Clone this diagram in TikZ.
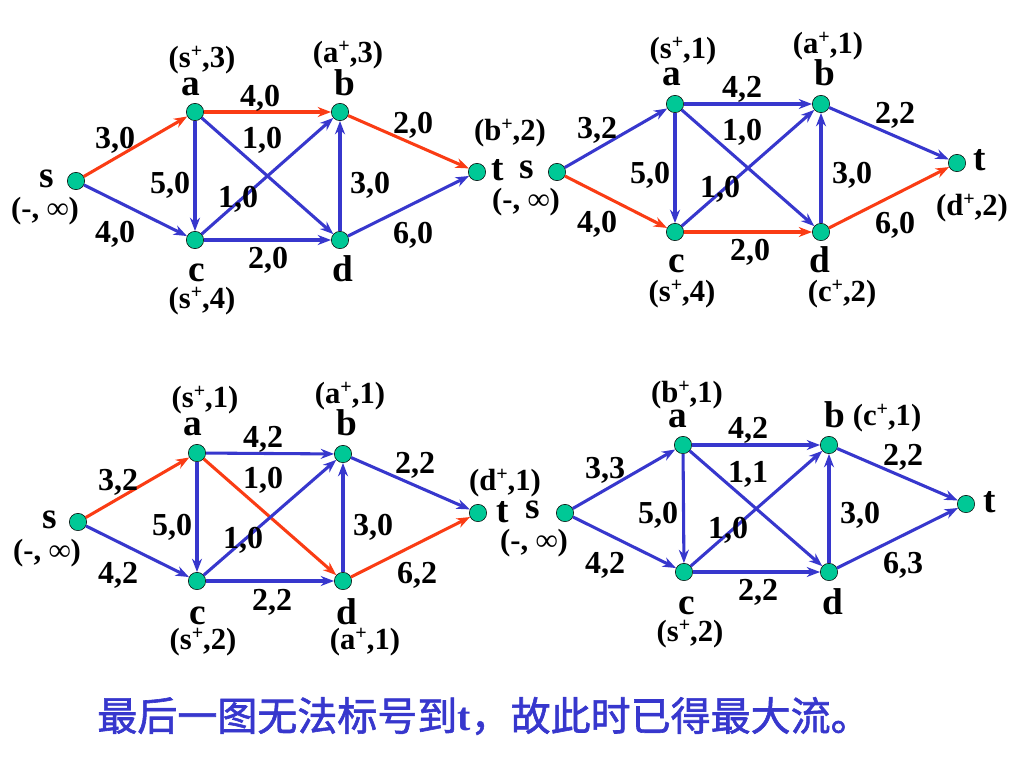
\documentclass[tikz,border=0pt]{standalone}
\usepackage{fontspec}
\setmainfont{Liberation Serif}
\newfontfamily\cjk{Noto Sans CJK SC}[AutoFakeBold=1.5]
\usepackage{tikz}
\usetikzlibrary{arrows.meta,positioning}
\definecolor{nodegreen}{RGB}{0,200,150}
\definecolor{edgeblue}{RGB}{55,55,205}
\definecolor{edgered}{RGB}{250,60,20}
\newcommand\plusup{\raisebox{0.3em}{\fontsize{15}{15}\selectfont +}} % the small raised +
\tikzset{
vertex/.style={circle, draw=black, fill=nodegreen, minimum size=13pt, inner sep=0pt}, % the green dots
flow/.style={draw=edgeblue, line width=2.3pt, -{Stealth[length=10pt,width=7.5pt]}}, % every arc
aug/.style={draw=edgered}, % arcs of the augmenting path
vname/.style={font=\bfseries\fontsize{28}{28}\selectfont, anchor=base, inner sep=0pt}, % a, b, c ...
flowlbl/.style={font=\bfseries\fontsize{24}{24}\selectfont, anchor=base, inner sep=0pt}, % capacity,flow
tag/.style={font=\bfseries\fontsize{23}{23}\selectfont, anchor=base, inner sep=0pt}, % labels (x+,e)
}

\begin{document}
\begin{tikzpicture}[x=0.75pt, y=-0.75pt]
\useasboundingbox (0,0) rectangle (1024,768);

% first graph
\node[vertex] (s1) at (76,181) {};
\node[vertex] (a1) at (195,112) {};
\node[vertex] (b1) at (340,112) {};
\node[vertex] (c1) at (195,240) {};
\node[vertex] (d1) at (340,240) {};
\node[vertex] (t1) at (477,172) {};
\draw[flow]
(s1) edge[aug] (a1)
(s1) edge (c1)
(a1) edge[aug] (b1)
(a1) edge (c1)
(a1) edge (d1)
(c1) edge (b1)
(c1) edge (d1)
(d1) edge (b1)
(b1) edge[aug] (t1)
(d1) edge (t1);
\node[vname] (ls1) at (47,187) {s};
\node[vname] (la1) at (191,95) {a};
\node[vname] (lb1) at (345,95) {b};
\node[vname] (lc1) at (197,281) {c};
\node[vname] (ld1) at (343,281) {d};
\node[vname] (lt1) at (498,180) {t};
\node[tag] (ts1) at (45,218) {(-, ∞)};
\node[tag] (ta1) at (202,67) {(s\plusup,3)};
\node[tag] (tb1) at (348,62) {(a\plusup,3)};
\node[tag] (tc1) at (202,308) {(s\plusup,4)};
\node[tag] (tt1) at (510,140) {(b\plusup,2)};
\node[flowlbl] (f1sa) at (115,148) {3,0};
\node[flowlbl] (f1sc) at (115,242) {4,0};
\node[flowlbl] (f1ab) at (260,106) {4,0};
\node[flowlbl] (f1ad) at (262,148) {1,0};
\node[flowlbl] (f1ac) at (170,193) {5,0};
\node[flowlbl] (f1cb) at (238,207) {1,0};
\node[flowlbl] (f1db) at (370,193) {3,0};
\node[flowlbl] (f1bt) at (413,133) {2,0};
\node[flowlbl] (f1dt) at (413,243) {6,0};
\node[flowlbl] (f1cd) at (268,268) {2,0};

% second graph
\node[vertex] (s2) at (557,172) {};
\node[vertex] (a2) at (675,104) {};
\node[vertex] (b2) at (821,104) {};
\node[vertex] (c2) at (675,232) {};
\node[vertex] (d2) at (821,232) {};
\node[vertex] (t2) at (957,163) {};
\draw[flow]
(s2) edge (a2)
(s2) edge[aug] (c2)
(a2) edge (b2)
(a2) edge (c2)
(a2) edge (d2)
(c2) edge (b2)
(c2) edge[aug] (d2)
(d2) edge (b2)
(b2) edge (t2)
(d2) edge[aug] (t2);
\node[vname] (ls2) at (527,178) {s};
\node[vname] (la2) at (672,85) {a};
\node[vname] (lb2) at (825,85) {b};
\node[vname] (lc2) at (677,272) {c};
\node[vname] (ld2) at (820,272) {d};
\node[vname] (lt2) at (980,170) {t};
\node[tag] (ts2) at (526,209) {(-, ∞)};
\node[tag] (ta2) at (683,58) {(s\plusup,1)};
\node[tag] (tb2) at (828,53) {(a\plusup,1)};
\node[tag] (tc2) at (682,301) {(s\plusup,4)};
\node[tag] (td2) at (842,301) {(c\plusup,2)};
\node[tag] (tt2) at (972,215) {(d\plusup,2)};
\node[flowlbl] (f2sa) at (597,138) {3,2};
\node[flowlbl] (f2sc) at (597,232) {4,0};
\node[flowlbl] (f2ab) at (742,97) {4,2};
\node[flowlbl] (f2ad) at (742,140) {1,0};
\node[flowlbl] (f2ac) at (650,183) {5,0};
\node[flowlbl] (f2cb) at (720,197) {1,0};
\node[flowlbl] (f2db) at (852,183) {3,0};
\node[flowlbl] (f2bt) at (895,123) {2,2};
\node[flowlbl] (f2dt) at (895,233) {6,0};
\node[flowlbl] (f2cd) at (750,260) {2,0};

% third graph
\node[vertex] (s3) at (78,522) {};
\node[vertex] (a3) at (197,453) {};
\node[vertex] (b3) at (343,454) {};
\node[vertex] (c3) at (197,581) {};
\node[vertex] (d3) at (343,581) {};
\node[vertex] (t3) at (478,513) {};
\draw[flow]
(s3) edge[aug] (a3)
(s3) edge (c3)
(a3) edge (b3)
(a3) edge (c3)
(a3) edge[aug] (d3)
(c3) edge (b3)
(c3) edge (d3)
(d3) edge (b3)
(b3) edge (t3)
(d3) edge[aug] (t3);
\node[vname] (ls3) at (50,528) {s};
\node[vname] (la3) at (193,435) {a};
\node[vname] (lb3) at (347,435) {b};
\node[vname] (lc3) at (198,624) {c};
\node[vname] (ld3) at (347,624) {d};
\node[vname] (lt3) at (503,522) {t};
\node[tag] (ts3) at (47,560) {(-, ∞)};
\node[tag] (ta3) at (205,407) {(s\plusup,1)};
\node[tag] (tb3) at (350,403) {(a\plusup,1)};
\node[tag] (tc3) at (203,649) {(s\plusup,2)};
\node[tag] (td3) at (365,649) {(a\plusup,1)};
\node[tag] (tt3) at (505,490) {(d\plusup,1)};
\node[flowlbl] (f3sa) at (118,490) {3,2};
\node[flowlbl] (f3sc) at (118,583) {4,2};
\node[flowlbl] (f3ab) at (263,447) {4,2};
\node[flowlbl] (f3ad) at (263,488) {1,0};
\node[flowlbl] (f3ac) at (172,535) {5,0};
\node[flowlbl] (f3cb) at (243,548) {1,0};
\node[flowlbl] (f3db) at (373,535) {3,0};
\node[flowlbl] (f3bt) at (415,473) {2,2};
\node[flowlbl] (f3dt) at (417,583) {6,2};
\node[flowlbl] (f3cd) at (272,610) {2,2};

% fourth graph
\node[vertex] (s4) at (565,513) {};
\node[vertex] (a4) at (683,445) {};
\node[vertex] (b4) at (829,445) {};
\node[vertex] (c4) at (684,572) {};
\node[vertex] (d4) at (829,572) {};
\node[vertex] (t4) at (966,504) {};
\draw[flow]
(s4) edge (a4)
(s4) edge (c4)
(a4) edge (b4)
(a4) edge (c4)
(a4) edge (d4)
(c4) edge (b4)
(c4) edge (d4)
(d4) edge (b4)
(b4) edge (t4)
(d4) edge (t4);
\node[vname] (ls4) at (533,518) {s};
\node[vname] (la4) at (678,427) {a};
\node[vname] (lb4) at (835,427) {b};
\node[vname] (lc4) at (687,614) {c};
\node[vname] (ld4) at (833,614) {d};
\node[vname] (lt4) at (990,512) {t};
\node[tag] (ts4) at (534,550) {(-, ∞)};
\node[tag] (ta4) at (687,402) {(b\plusup,1)};
\node[tag] (tb4) at (887,425) {(c\plusup,1)};
\node[tag] (tc4) at (690,641) {(s\plusup,2)};
\node[flowlbl] (f4sa) at (605,478) {3,3};
\node[flowlbl] (f4sc) at (605,573) {4,2};
\node[flowlbl] (f4ab) at (748,438) {4,2};
\node[flowlbl] (f4ad) at (748,482) {1,1};
\node[flowlbl] (f4ac) at (658,523) {5,0};
\node[flowlbl] (f4cb) at (728,538) {1,0};
\node[flowlbl] (f4db) at (860,523) {3,0};
\node[flowlbl] (f4bt) at (903,465) {2,2};
\node[flowlbl] (f4dt) at (903,573) {6,3};
\node[flowlbl] (f4cd) at (758,600) {2,2};

\node[text=edgeblue, font=\fontsize{30}{30}\selectfont] (note) at (484,716)
{{\cjk\bfseries 最后一图无法标号到}\textbf{t}{\cjk\bfseries ，故此时已得最大流。}};
\end{tikzpicture}
\end{document}
